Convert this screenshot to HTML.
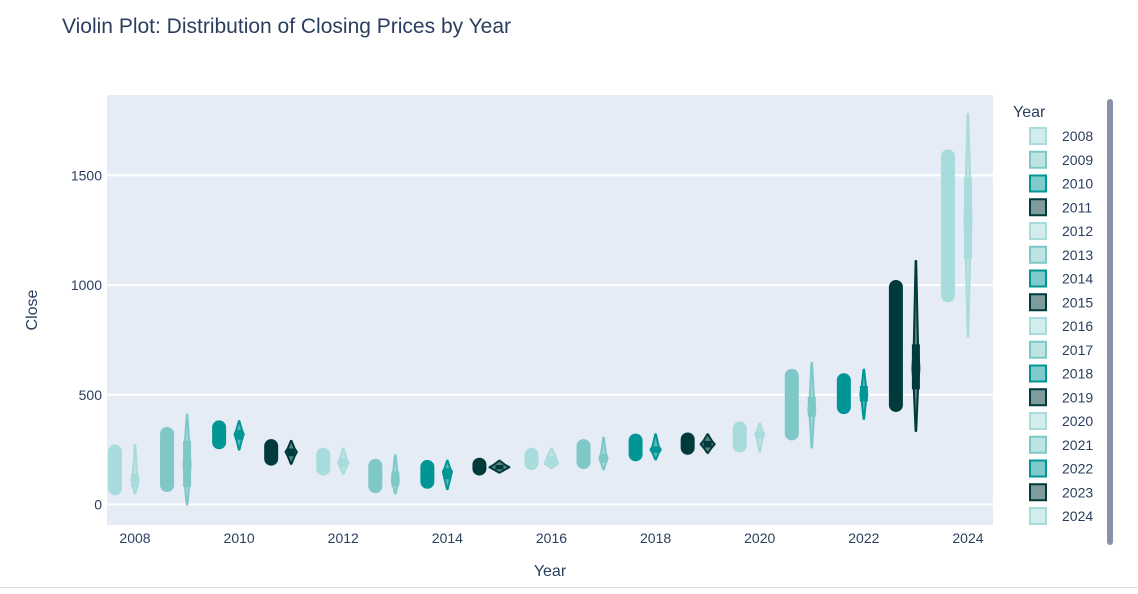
<!DOCTYPE html>
<html><head><meta charset="utf-8"><style>
body{margin:0;background:#fff;font-family:"Liberation Sans",sans-serif;}
svg text{font-family:"Liberation Sans",sans-serif;fill:#2a3f5f;}
</style></head><body>
<svg id="c" width="1138" height="589">
<rect x="0" y="0" width="1138" height="589" fill="#fff"/>
<text x="62" y="33" font-size="21">Violin Plot: Distribution of Closing Prices by Year</text>
<rect x="107" y="95" width="886" height="430" fill="#e5ecf6"/>
<g id="grid"></g><g id="marks"></g><g id="legend"></g>
<text x="550" y="576" font-size="16" text-anchor="middle">Year</text>
<text transform="translate(37,310) rotate(-90)" font-size="16" text-anchor="middle">Close</text>
<text x="1013" y="117" font-size="16">Year</text>
<rect x="1107" y="99" width="6" height="446" rx="3" fill="#8891a8"/>
<line x1="0" y1="587.5" x2="1138" y2="587.5" stroke="#ddd"/>
</svg>
<script>
const years=[2008,2009,2010,2011,2012,2013,2014,2015,2016,2017,2018,2019,2020,2021,2022,2023,2024];
const ptMin=[60,75,270,195,150,70,90,150,175,180,215,245,255,310,430,440,940];
const ptMax=[255,335,365,280,240,190,185,195,240,280,305,310,360,600,580,1005,1600];
const vMin=[50,0,250,185,140,50,70,145,165,160,205,235,240,260,390,335,765];
const vQ1=[80,80,295,220,170,85,115,160,178,190,235,260,300,400,470,525,1120];
const vMed=[110,180,320,240,190,110,150,170,185,210,250,275,320,430,500,620,1300];
const vQ3=[140,290,340,255,210,150,165,180,220,230,265,290,335,490,540,730,1490];
const vMax=[270,410,380,290,255,225,200,200,255,305,320,320,370,645,615,1110,1780];
const yTicks=[0,500,1000,1500];
const xTicks=[2008,2010,2012,2014,2016,2018,2020,2022,2024];
const cols=['#a8dcdc','#7ec8c8','#009696','#003a3a'];
const X=y=>135+(y-2008)*52.06;
const Y=v=>504.5-v*0.2194;
const ns='http://www.w3.org/2000/svg';
function mk(t,a,p){const e=document.createElementNS(ns,t);for(const k in a)e.setAttribute(k,a[k]);p.appendChild(e);return e;}
const g=document.getElementById('grid'),m=document.getElementById('marks'),lg=document.getElementById('legend');
yTicks.forEach(v=>{
 const l=mk('line',{x1:107,x2:993,y1:Y(v),y2:Y(v),stroke:'#fff','stroke-width':2},g);
 
 
 const t=mk('text',{x:102,y:Y(v)+5,'font-size':14,'text-anchor':'end'},g);t.textContent=v;
 
 
});
xTicks.forEach(v=>{
 const t=mk('text',{x:X(v),y:543,'font-size':14,'text-anchor':'middle'},g);t.textContent=v;
 
 
});
years.forEach((yr,i)=>{
 const c=cols[i%4];
 const px=X(yr)-20;
 const r=mk('rect',{x:px-7,y:Y(ptMax[i])-4,width:14,height:Y(ptMin[i])-Y(ptMax[i])+8,rx:7,fill:c},m);
 
 
 const vx=X(yr);
 const hw=Math.max(3.5,Math.min(10,600/(vMax[i]-vMin[i])));
 const pts=[[vMin[i],0.3],[vQ1[i],hw*0.6],[vMed[i],hw],[vQ3[i],hw*0.6],[vMax[i],0.3]];
 let d='M'+vx+','+Y(vMin[i]);
 pts.forEach(p=>d+=' L'+(vx+p[1])+','+Y(p[0]));
 pts.slice().reverse().forEach(p=>d+=' L'+(vx-p[1])+','+Y(p[0]));
 d+='Z';
 const v=mk('path',{d:d,fill:c,'fill-opacity':0.6,stroke:c,'stroke-width':2,'stroke-linejoin':'round'},m);
 
 
 const b=mk('rect',{x:vx-4,y:Y(vQ3[i]),width:8,height:Y(vQ1[i])-Y(vQ3[i]),fill:c},m);
 
 
 const ly=136+i*23.75;
 const s=mk('rect',{x:1030,y:ly-8,width:16,height:16,fill:c,'fill-opacity':0.5,stroke:c,'stroke-width':2},lg);
 
 
 const t=mk('text',{x:1062,y:ly+5,'font-size':14},lg);t.textContent=yr;
 
 
});
</script>
</body></html>
